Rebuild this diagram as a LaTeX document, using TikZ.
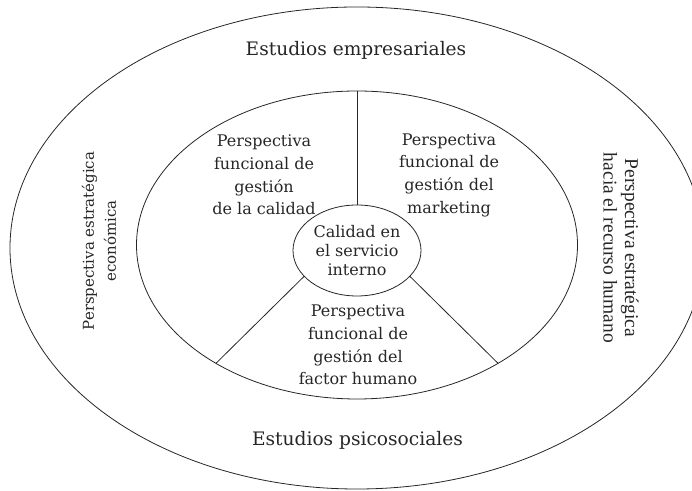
\documentclass[tikz,border=0pt]{standalone}
\usepackage{fontspec}
\setmainfont{DejaVu Serif}
\newfontfamily\timesfont{Liberation Serif}
\usetikzlibrary{shapes.geometric}
\begin{document}
\begin{tikzpicture}[x=1bp,y=1bp,
  ell/.style={ellipse, draw=black!85, line width=0.8bp, inner sep=0pt, outer sep=0pt},
  sep/.style={draw=black!85, line width=0.8bp},
  txt/.style={align=center, text=black!85, inner sep=0pt, font=\fontsize{16bp}{22.7bp}\selectfont},
  big/.style={align=center, text=black!85, inner sep=0pt, font=\fontsize{18.6bp}{22bp}\selectfont},
  sidel/.style={align=center, text=black!85, inner sep=0pt, rotate=90, font=\fontsize{15bp}{22bp}\selectfont},
  sider/.style={align=center, text=black!85, inner sep=0pt, rotate=-90, font=\timesfont\fontsize{19.5bp}{21.5bp}\selectfont}]
\useasboundingbox (0,0) rectangle (692,491);
\node[ell, minimum width=694bp, minimum height=482bp] (outer) at (357,243) {};
\node[ell, minimum width=441bp, minimum height=308bp] (inner) at (357,246) {};
\node[ell, minimum width=128bp, minimum height=91bp, align=center, text=black!85,
      font=\fontsize{16bp}{19bp}\selectfont] (core) at (357,240.5) {Calidad en\\el servicio\\interno};
\draw[sep] (inner.north) -- (core.north);
\draw[sep] (core.206) -- (inner.220);
\draw[sep] (core.334) -- (inner.320);
\node[big] (emp) at (356,441) {Estudios empresariales};
\node[big] (psi) at (357.5,51) {Estudios psicosociales};
\node[txt] (cal) at (264,316) {Perspectiva\\funcional de\\gestión\\de la calidad};
\node[txt] (mkt) at (449,316) {Perspectiva\\funcional de\\gestión del\\marketing};
\node[txt] (fh) at (358,146) {Perspectiva\\funcional de\\gestión del\\factor humano};
\node[sidel] (eco) at (99,250) {Perspectiva estratégica\\económica};
\node[sider] (rh) at (621,243) {Perspectiva estratégica\\hacia el recurso humano};
\end{tikzpicture}
\end{document}
